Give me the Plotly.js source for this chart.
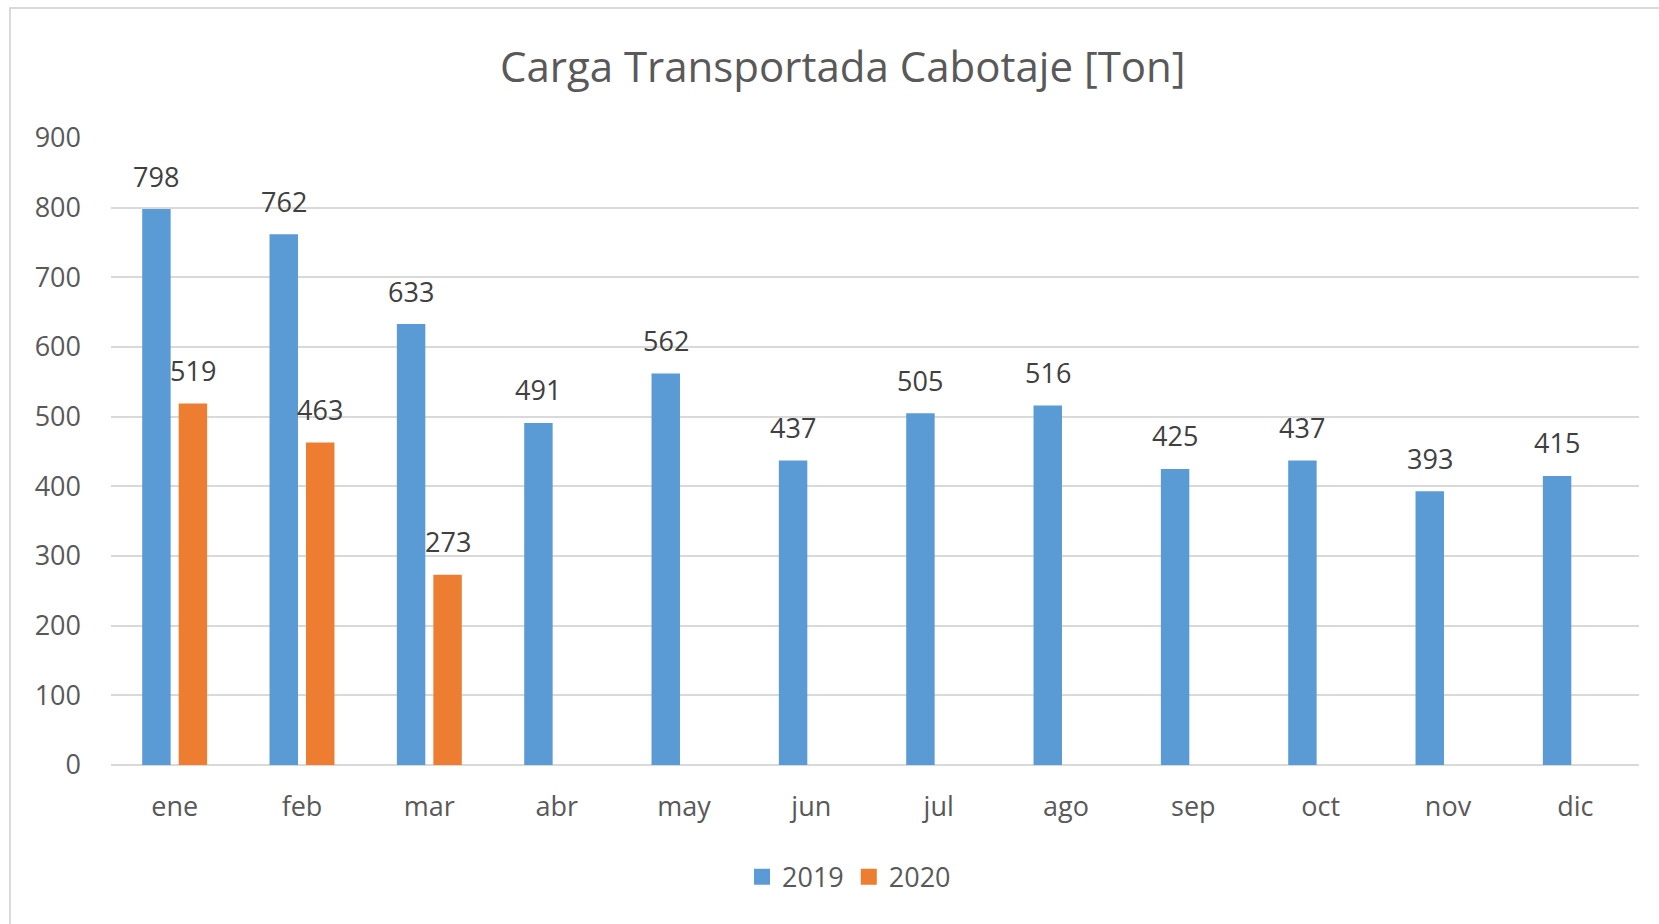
<!DOCTYPE html>
<html>
<head>
<meta charset="utf-8">
<script src="https://cdn.plot.ly/plotly-3.0.1.min.js"></script>
<style>
  html, body { margin: 0; padding: 0; background: #ffffff; }
  #chart { width: 1659px; height: 924px; }
</style>
</head>
<body>
<div id="chart"></div>
<script>
const months = ["ene", "feb", "mar", "abr", "may", "jun", "jul", "ago", "sep", "oct", "nov", "dic"];
const values2019 = [798, 762, 633, 491, 562, 437, 505, 516, 425, 437, 393, 415];
const values2020 = [519, 463, 273, null, null, null, null, null, null, null, null, null];
const seriesNames = ["2019", "2020"];
const yTicks = [0, 100, 200, 300, 400, 500, 600, 700, 800, 900];

const BLUE = "#5B9BD5";
const ORANGE = "#ED7D31";
const FONT = "Open Sans, Noto Sans, sans-serif";
const FS = 27;

const traces = [
  { type: "bar", name: seriesNames[0], x: months, y: values2019,
    marker: { color: BLUE }, showlegend: false, hoverinfo: "x+y" },
  { type: "bar", name: seriesNames[1], x: months, y: values2020,
    marker: { color: ORANGE }, showlegend: false, hoverinfo: "x+y" },
  { type: "scatter", mode: "markers", name: seriesNames[0], x: [null], y: [null],
    marker: { symbol: "square", size: 18, color: BLUE } },
  { type: "scatter", mode: "markers", name: seriesNames[1], x: [null], y: [null],
    marker: { symbol: "square", size: 18, color: ORANGE } }
];

const annotations = [];
function addLabels(vals, xshift) {
  vals.forEach((v, i) => {
    if (v === null) return;
    annotations.push({
      x: months[i], y: v, xref: "x", yref: "y", text: String(v),
      showarrow: false, xanchor: "center", yanchor: "middle",
      xshift: xshift, yshift: 33,
      font: { family: FONT, size: FS, color: "#404040" }
    });
  });
}
addLabels(values2019, -18.3);
addLabels(values2020, 18.3);

const layout = {
  width: 1659, height: 924,
  paper_bgcolor: "#ffffff", plot_bgcolor: "#ffffff",
  margin: { l: 111, r: 20, t: 138, b: 159 },
  title: {
    text: "Carga Transportada Cabotaje [Ton]",
    font: { family: FONT, size: 42, color: "#595959" },
    x: 0.508, xanchor: "center", y: 0.927, yanchor: "middle"
  },
  barmode: "group",
  bargap: 0.427,
  bargroupgap: 0.22,
  xaxis: {
    type: "category",
    showgrid: false, showline: false, zeroline: false,
    ticks: "", ticklabelstandoff: 23,
    tickfont: { family: FONT, size: FS, color: "#595959" },
    fixedrange: true
  },
  yaxis: {
    range: [0, 900],
    tickvals: yTicks,
    showgrid: true, gridcolor: "#d9d9d9", gridwidth: 2,
    zeroline: true, zerolinecolor: "#d9d9d9", zerolinewidth: 2,
    showline: false, ticks: "", ticklabelstandoff: 29,
    tickfont: { family: FONT, size: FS, color: "#595959" },
    fixedrange: true
  },
  legend: {
    orientation: "h",
    x: 0.483, xanchor: "center",
    y: -0.179, yanchor: "middle",
    font: { family: FONT, size: FS, color: "#595959" },
    itemwidth: 30, tracegroupgap: 0
  },
  annotations: annotations,
  shapes: [{
    type: "rect", xref: "paper", yref: "paper",
    x0: -0.0661, x1: 1.05, y0: -0.4, y1: 1.2073,
    line: { color: "#d9d9d9", width: 2 }, fillcolor: "rgba(0,0,0,0)", layer: "below"
  }]
};

Plotly.newPlot("chart", traces, layout, { displayModeBar: false, staticPlot: true });
</script>
</body>
</html>
